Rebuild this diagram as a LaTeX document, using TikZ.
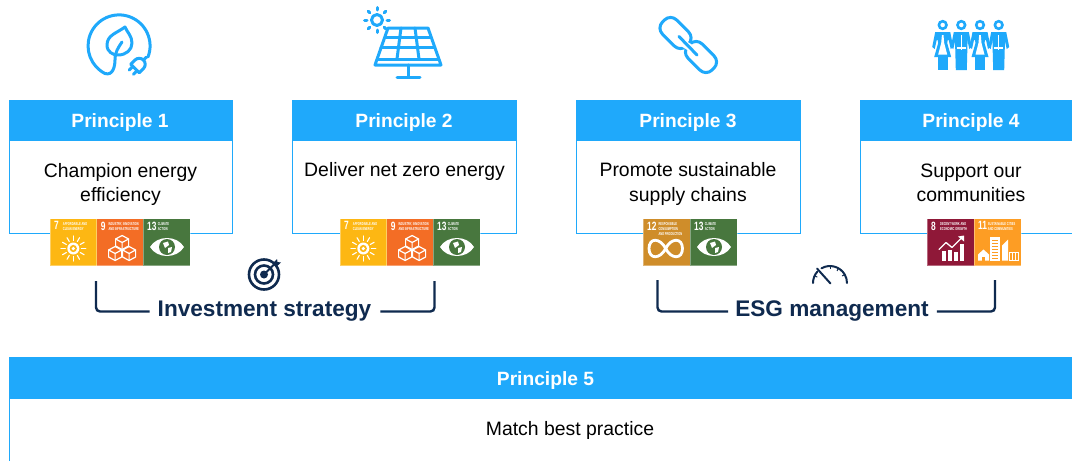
\documentclass[tikz,border=0pt]{standalone}
\usepackage{fontspec}
\setmainfont{Liberation Sans}
\newfontfamily\tilelabf{Liberation Sans}[FakeStretch=.62,BoldFeatures={FakeStretch=.62}]
\newfontfamily\tilenumf{Liberation Sans}[FakeStretch=.7,BoldFeatures={FakeStretch=.7}]
\definecolor{pblue}{HTML}{1FA9FB}
\definecolor{navy}{HTML}{0F2A4F}
\definecolor{sdgA}{HTML}{FDB713}
\definecolor{sdgB}{HTML}{F36D25}
\definecolor{sdgC}{HTML}{48773E}
\definecolor{sdgD}{HTML}{CF8D2A}
\definecolor{sdgE}{HTML}{8F1838}
\definecolor{sdgF}{HTML}{FD9D24}
\tikzset{
  x=1pt,y=-1pt,
  bodybox/.style={draw=pblue,line width=1pt,fill=white},
  headbox/.style={fill=pblue,draw=pblue,line width=1pt},
  headtxt/.style={text=white,font=\fontsize{19.2}{22}\selectfont\bfseries,inner sep=0pt},
  bodytxt/.style={text=black,font=\fontsize{19.4}{24.5}\selectfont,align=center,inner sep=0pt},
  grouptxt/.style={text=navy,font=\fontsize{22.6}{26}\selectfont\bfseries,inner sep=0pt},
  bracket/.style={draw=navy,line width=2.4pt,rounded corners=4pt},
  iconline/.style={draw=pblue,line width=3pt,line cap=round,line join=round},
  navyicon/.style={draw=navy,line width=2pt,line cap=round},
  tilenum/.style={text=white,font=\tilenumf\fontsize{12}{12}\selectfont\bfseries,inner sep=0pt,anchor=north west},
  tilelab/.style={text=white,font=\tilelabf\fontsize{4.2}{4.9}\selectfont\bfseries,inner sep=0pt,anchor=north west,align=left},
  w/.style={draw=white,line width=1.6pt,line cap=round,line join=round},
}
\newcommand\icoSun{%
  \fill[white] (23.3,30) circle (6);
  \fill[sdgA] (23.3,30) circle (3.6);
  \fill[white] (23.3,30) circle (1.8);
  \foreach \a in {0,30,...,330}{\draw[white,line width=1.1pt,line cap=round] (23.3,30)+(\a:8)--+(\a:12.5);}
}
\newcommand\oneCube[2]{%
  \draw[w,line width=1.2pt] (#1,#2-7)--(#1+6.5,#2-3.5)--(#1+6.5,#2+3.5)--(#1,#2+7)--(#1-6.5,#2+3.5)--(#1-6.5,#2-3.5)--cycle;
  \draw[w,line width=1.2pt] (#1-6.5,#2-3.5)--(#1,#2)--(#1+6.5,#2-3.5) (#1,#2)--(#1,#2+7);
}
\newcommand\icoCube{\oneCube{25.5}{24}\oneCube{18.5}{35}\oneCube{32.5}{35}}
\newcommand\icoEye{%
  \fill[white] (7,28.5) .. controls (14,16.5) and (34,16.5) .. (41,28.5) .. controls (34,40.5) and (14,40.5) .. (7,28.5) -- cycle;
  \fill[sdgC] (24,28.5) circle (8);
  \fill[white] (20,24.5) -- (25,23) -- (26,26.5) -- (22,29.5) -- cycle;
  \fill[white] (25,29.5) -- (29,28.5) -- (28,33.5) -- (25,34.5) -- cycle;
}
\newcommand\icoInf{%
  \draw[draw=white,line width=2.8pt] (22.7,30) .. controls (17,19) and (6,19) .. (6,30) .. controls (6,41) and (17,41) .. (22.7,30) .. controls (28,19) and (39.5,19) .. (39.5,30) .. controls (39.5,41) and (28,41) .. (22.7,30) -- cycle;
}
\newcommand\icoGrow{%
  \fill[white] (15,32) rectangle (19,42);
  \fill[white] (21,31) rectangle (25,42);
  \fill[white] (27,33) rectangle (31,42);
  \fill[white] (33,25) rectangle (37,42);
  \draw[w,line width=1.3pt] (12,31)--(19,24)--(25,29)--(35,19);
  \fill[white] (37,17)--(37,23)--(31,18)--cycle;
}
\newcommand\icoCity{%
  \fill[white] (16,18) rectangle (26,42);
  \foreach \yy in {21,24,...,39}{\fill[sdgF] (18,\yy) rectangle (24,\yy+1);}
  \fill[white] (28,40)--(28,27)--(34,21)--(34,42)--(28,42)--cycle;
  \fill[white] (4,42)--(4,36)--(9.5,31)--(15,36)--(15,42)--cycle;
  \fill[sdgF] (8,38) rectangle (11,42);
  \draw[white,line width=1pt] (35,34) rectangle (44,42);
  \draw[white,line width=.7pt] (38,34)--(38,42) (41,34)--(41,42);
}
% id, x, colour, number, label, icon, label x
\newcommand\sdgtile[7]{%
  \begin{scope}[shift={(#2,218.5)}]
    \path[fill=#3,draw=white,draw opacity=.35,line width=.5pt] (0,0) rectangle (46.8,47);
    \node[tilenum] (#1n) at (4,3) {#4};
    \node[tilelab] (#1l) at (#7,4) {#5};
    #6
  \end{scope}}
\newcommand\tiA[2]{\sdgtile{#1}{#2}{sdgA}{7}{AFFORDABLE AND\\CLEAN ENERGY}{\icoSun}{12.7}}
\newcommand\tiB[2]{\sdgtile{#1}{#2}{sdgB}{9}{INDUSTRY, INNOVATION\\AND INFRASTRUCTURE}{\icoCube}{11.7}}
\newcommand\tiC[2]{\sdgtile{#1}{#2}{sdgC}{13}{CLIMATE\\ACTION}{\icoEye}{14.6}}
\begin{document}
\begin{tikzpicture}
\useasboundingbox (0,0) rectangle (1072,461);
\fill[white] (0,0) rectangle (1072,461);
% boxes
\path[bodybox] (9.5,140) rectangle (232.5,233);
\path[headbox] (9.5,100.5) rectangle (232.5,140);
\path[bodybox] (292.5,140) rectangle (516.5,233);
\path[headbox] (292.5,100.5) rectangle (516.5,140);
\path[bodybox] (576.5,140) rectangle (800.5,233);
\path[headbox] (576.5,100.5) rectangle (800.5,140);
\path[bodybox] (860.5,140) rectangle (1075,233);
\path[headbox] (860.5,100.5) rectangle (1075,140);
\draw[draw=pblue,line width=1pt] (9.5,398) -- (9.5,461);
\path[headbox] (9.5,357.5) rectangle (1075,398);
% texts
\node[headtxt] (h1) at (120,123) {Principle 1};
\node[headtxt] (h2) at (404,123) {Principle 2};
\node[headtxt] (h3) at (688,123) {Principle 3};
\node[headtxt] (h4) at (971,123) {Principle 4};
\node[headtxt] (h5) at (545.5,381) {Principle 5};
\node[bodytxt] (b1) at (120.5,184.5) {Champion energy\\efficiency};
\node[bodytxt,anchor=center] (b2) at (404.5,171) {Deliver net zero energy};
\node[bodytxt] (b3) at (688,184) {Promote sustainable\\supply chains};
\node[bodytxt] (b4) at (971,183) {Support our\\communities};
\node[text=black,font=\fontsize{19.4}{22}\selectfont,inner sep=0pt] (b5) at (570,430) {Match best practice};
% tiles
\tiA{ta}{50}\tiB{tb}{96.6}\tiC{tc}{143}
\tiA{td}{340}\tiB{te}{386.6}\tiC{tf}{433}
\sdgtile{tg}{643}{sdgD}{12}{RESPONSIBLE\\CONSUMPTION\\AND PRODUCTION}{\icoInf}{15.3}
\tiC{th}{690}
\sdgtile{ti}{927}{sdgE}{8}{DECENT WORK AND\\ECONOMIC GROWTH}{\icoGrow}{13}
\sdgtile{tj}{974}{sdgF}{11}{SUSTAINABLE CITIES\\AND COMMUNITIES}{\icoCity}{13.7}
% group labels and brackets
\node[grouptxt] (inv) at (264.5,311.5) {Investment strategy};
\node[grouptxt] (esg) at (832,311.5) {ESG management};
\coordinate (invL) at (96,281);
\coordinate (invR) at (434.5,281);
\coordinate (esgL) at (657.5,280);
\coordinate (esgR) at (995,280);
\draw[bracket] (invL) |- ([xshift=-8pt]inv.west);
\draw[bracket] (invR) |- ([xshift=9pt]inv.east);
\draw[bracket] (esgL) |- ([xshift=-7pt]esg.west);
\draw[bracket] (esgR) |- ([xshift=8pt]esg.east);
% target icon
\draw[navy,line width=2.6pt] (264,274.5) circle (15);
\draw[navy,line width=2.6pt] (264,274.5) circle (9);
\fill[navy] (264,274.5) circle (4);
\draw[navy,line width=1.8pt] (264,274.5)--(275,263.5);
\fill[navy] (273,263)--(277,259)--(277.5,262)--(281,262.5)--(276,267)--cycle;
% gauge icon
\draw[navyicon] (813,283) arc[start angle=180,end angle=222,radius=17];
\draw[navyicon] (821.5,268.3) arc[start angle=240,end angle=360,radius=17];
\draw[navyicon] (817,268.5)--(830.5,283.5);
\foreach \a in {205,270,300,330}{\draw[navy,line width=1pt] (830,283)+(\a:14)--+(\a:16.5);}
% leaf / plug icon
\draw[iconline] (148,57) arc[start angle=21,end angle=-243,radius=31] .. controls (113,76) and (115,66) .. (115,60) .. controls (115,52) and (118,48) .. (122,42);
\draw[iconline] (125,27) .. controls (117,33) and (107,35) .. (107,45) .. controls (107,52) and (113,55) .. (118,55) .. controls (126,55) and (132,50) .. (132,43) .. controls (132,36) and (127,32) .. (125,27) -- cycle;
\begin{scope}[shift={(138.5,65)},rotate=45]
  \draw[iconline] (-5,-6)--(1,-6) arc[start angle=-90,end angle=90,radius=6]--(-5,6)--cycle;
  \draw[iconline] (7,0)--(11,0);
  \draw[iconline] (-5,-3)--(-10,-3) (-5,3)--(-10,3);
\end{scope}
% solar icon
\draw[iconline] (388,28)--(428,28)--(441,65)--(375,65)--cycle;
\draw[iconline] (377,59)--(439,59) (384.5,37.5)--(431,37.5) (381,47.5)--(434.5,47.5);
\draw[iconline] (401,28)--(397,59) (415,28)--(419,59);
\draw[iconline] (408,65)--(408,77) (397,77)--(420,77);
\draw[iconline] (377,20) circle (5.5);
\foreach \a in {0,45,...,315}{\draw[iconline] (377,20)+(\a:10)--+(\a:12.5);}
% chain icon
\begin{scope}[shift={(675.5,33)},rotate=-45]
  \draw[iconline,rounded corners=8.5pt] (-17,-10) rectangle (17,10);
\end{scope}
\begin{scope}[shift={(701,57)},rotate=-45]
  \draw[iconline,rounded corners=8.5pt] (-17,-10) rectangle (17,10);
\end{scope}
\draw[white,line width=7pt] (681,42)--(694,50);
\draw[iconline] (679,36.5)--(697,55);
% people icon
\foreach \cx/\kind in {942.7/0,961.3/1,980/0,998.7/1}{
  \draw[pblue,line width=2.6pt] (\cx,25) circle (3.8);
  \fill[pblue] (\cx-7.5,32)--(\cx+7.5,32)--(\cx+10.5,47)--(\cx+8,49)--(\cx+6,40)--(\cx+6,40)--(\cx-6,40)--(\cx-8,49)--(\cx-10.5,47)--cycle;
  \ifnum\kind=0
    \fill[pblue] (\cx-6.5,32)--(\cx+6.5,32)--(\cx+4.5,43)--(\cx+8.5,57)--(\cx-8.5,57)--(\cx-4.5,43)--cycle;
    \fill[white] (\cx-.8,35)--(\cx+.8,35)--(\cx+1.5,43)--(\cx+4.5,54.5)--(\cx-4.5,54.5)--(\cx-1.5,43)--cycle;
    \fill[pblue] (\cx-5,57)rectangle(\cx+5,70);
  \else
    \fill[pblue] (\cx-6.5,32)--(\cx+6.5,32)--(\cx+5.5,70)--(\cx-5.5,70)--cycle;
    \fill[white] (\cx-.6,35)--(\cx+.6,35)--(\cx+.6,50)--(\cx-.6,50)--cycle;
    \fill[white] (\cx-4.5,47)--(\cx+4.5,47)--(\cx+4.5,48.5)--(\cx-4.5,48.5)--cycle;
  \fi
}
\end{tikzpicture}
\end{document}
